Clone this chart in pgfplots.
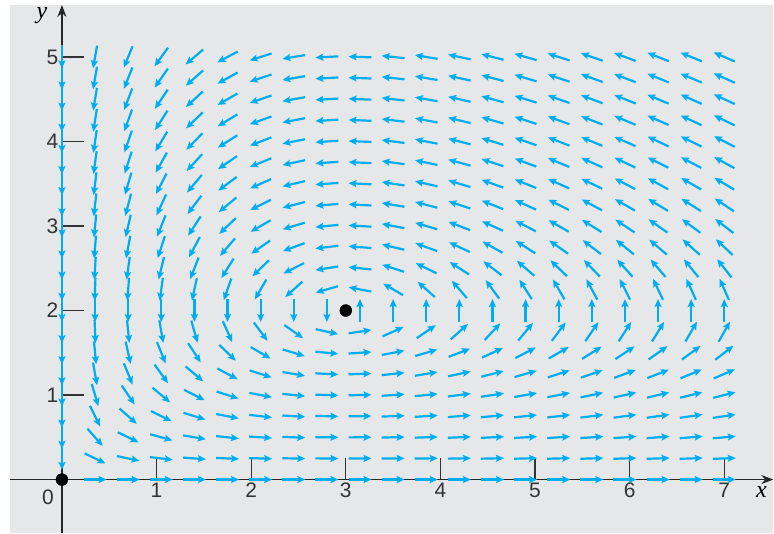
\documentclass[border=0pt]{standalone}
\usepackage{fontspec}
\setmainfont{Liberation Serif}
\setsansfont{Liberation Sans}
\usepackage{pgfplots}
\usepackage{pgfplotstable}
\pgfplotsset{compat=1.18}
\usetikzlibrary{arrows.meta}
\definecolor{bggray}{RGB}{230,231,233}
\definecolor{fieldcyan}{RGB}{0,174,239}
\pgfplotstableread{
x y a b
0 0.25 0 -0.75
0 0.5 0 -1.5
0 0.75 0 -2.25
0 1 0 -3
0 1.25 0 -3.75
0 1.5 0 -4.5
0 1.75 0 -5.25
0 2 0 -6
0 2.25 0 -6.75
0 2.5 0 -7.5
0 2.75 0 -8.25
0 3 0 -9
0 3.25 0 -9.75
0 3.5 0 -10.5
0 3.75 0 -11.25
0 4 0 -12
0 4.25 0 -12.75
0 4.5 0 -13.5
0 4.75 0 -14.25
0 5 0 -15
0.35 0 1.4 0
0.35 0.25 1.225 -0.6625
0.35 0.5 1.05 -1.325
0.35 0.75 0.875 -1.9875
0.35 1 0.7 -2.65
0.35 1.25 0.525 -3.3125
0.35 1.5 0.35 -3.975
0.35 1.75 0.175 -4.6375
0.35 2 0 -5.3
0.35 2.25 -0.175 -5.9625
0.35 2.5 -0.35 -6.625
0.35 2.75 -0.525 -7.2875
0.35 3 -0.7 -7.95
0.35 3.25 -0.875 -8.6125
0.35 3.5 -1.05 -9.275
0.35 3.75 -1.225 -9.9375
0.35 4 -1.4 -10.6
0.35 4.25 -1.575 -11.2625
0.35 4.5 -1.75 -11.925
0.35 4.75 -1.925 -12.5875
0.35 5 -2.1 -13.25
0.7 0 2.8 0
0.7 0.25 2.45 -0.575
0.7 0.5 2.1 -1.15
0.7 0.75 1.75 -1.725
0.7 1 1.4 -2.3
0.7 1.25 1.05 -2.875
0.7 1.5 0.7 -3.45
0.7 1.75 0.35 -4.025
0.7 2 0 -4.6
0.7 2.25 -0.35 -5.175
0.7 2.5 -0.7 -5.75
0.7 2.75 -1.05 -6.325
0.7 3 -1.4 -6.9
0.7 3.25 -1.75 -7.475
0.7 3.5 -2.1 -8.05
0.7 3.75 -2.45 -8.625
0.7 4 -2.8 -9.2
0.7 4.25 -3.15 -9.775
0.7 4.5 -3.5 -10.35
0.7 4.75 -3.85 -10.925
0.7 5 -4.2 -11.5
1.05 0 4.2 0
1.05 0.25 3.675 -0.4875
1.05 0.5 3.15 -0.975
1.05 0.75 2.625 -1.4625
1.05 1 2.1 -1.95
1.05 1.25 1.575 -2.4375
1.05 1.5 1.05 -2.925
1.05 1.75 0.525 -3.4125
1.05 2 0 -3.9
1.05 2.25 -0.525 -4.3875
1.05 2.5 -1.05 -4.875
1.05 2.75 -1.575 -5.3625
1.05 3 -2.1 -5.85
1.05 3.25 -2.625 -6.3375
1.05 3.5 -3.15 -6.825
1.05 3.75 -3.675 -7.3125
1.05 4 -4.2 -7.8
1.05 4.25 -4.725 -8.2875
1.05 4.5 -5.25 -8.775
1.05 4.75 -5.775 -9.2625
1.05 5 -6.3 -9.75
1.4 0 5.6 0
1.4 0.25 4.9 -0.4
1.4 0.5 4.2 -0.8
1.4 0.75 3.5 -1.2
1.4 1 2.8 -1.6
1.4 1.25 2.1 -2
1.4 1.5 1.4 -2.4
1.4 1.75 0.7 -2.8
1.4 2 0 -3.2
1.4 2.25 -0.7 -3.6
1.4 2.5 -1.4 -4
1.4 2.75 -2.1 -4.4
1.4 3 -2.8 -4.8
1.4 3.25 -3.5 -5.2
1.4 3.5 -4.2 -5.6
1.4 3.75 -4.9 -6
1.4 4 -5.6 -6.4
1.4 4.25 -6.3 -6.8
1.4 4.5 -7 -7.2
1.4 4.75 -7.7 -7.6
1.4 5 -8.4 -8
1.75 0 7 0
1.75 0.25 6.125 -0.3125
1.75 0.5 5.25 -0.625
1.75 0.75 4.375 -0.9375
1.75 1 3.5 -1.25
1.75 1.25 2.625 -1.5625
1.75 1.5 1.75 -1.875
1.75 1.75 0.875 -2.1875
1.75 2 0 -2.5
1.75 2.25 -0.875 -2.8125
1.75 2.5 -1.75 -3.125
1.75 2.75 -2.625 -3.4375
1.75 3 -3.5 -3.75
1.75 3.25 -4.375 -4.0625
1.75 3.5 -5.25 -4.375
1.75 3.75 -6.125 -4.6875
1.75 4 -7 -5
1.75 4.25 -7.875 -5.3125
1.75 4.5 -8.75 -5.625
1.75 4.75 -9.625 -5.9375
1.75 5 -10.5 -6.25
2.1 0 8.4 0
2.1 0.25 7.35 -0.225
2.1 0.5 6.3 -0.45
2.1 0.75 5.25 -0.675
2.1 1 4.2 -0.9
2.1 1.25 3.15 -1.125
2.1 1.5 2.1 -1.35
2.1 1.75 1.05 -1.575
2.1 2 0 -1.8
2.1 2.25 -1.05 -2.025
2.1 2.5 -2.1 -2.25
2.1 2.75 -3.15 -2.475
2.1 3 -4.2 -2.7
2.1 3.25 -5.25 -2.925
2.1 3.5 -6.3 -3.15
2.1 3.75 -7.35 -3.375
2.1 4 -8.4 -3.6
2.1 4.25 -9.45 -3.825
2.1 4.5 -10.5 -4.05
2.1 4.75 -11.55 -4.275
2.1 5 -12.6 -4.5
2.45 0 9.8 0
2.45 0.25 8.575 -0.1375
2.45 0.5 7.35 -0.275
2.45 0.75 6.125 -0.4125
2.45 1 4.9 -0.55
2.45 1.25 3.675 -0.6875
2.45 1.5 2.45 -0.825
2.45 1.75 1.225 -0.9625
2.45 2 0 -1.1
2.45 2.25 -1.225 -1.2375
2.45 2.5 -2.45 -1.375
2.45 2.75 -3.675 -1.5125
2.45 3 -4.9 -1.65
2.45 3.25 -6.125 -1.7875
2.45 3.5 -7.35 -1.925
2.45 3.75 -8.575 -2.0625
2.45 4 -9.8 -2.2
2.45 4.25 -11.025 -2.3375
2.45 4.5 -12.25 -2.475
2.45 4.75 -13.475 -2.6125
2.45 5 -14.7 -2.75
2.8 0 11.2 0
2.8 0.25 9.8 -0.05
2.8 0.5 8.4 -0.1
2.8 0.75 7 -0.15
2.8 1 5.6 -0.2
2.8 1.25 4.2 -0.25
2.8 1.5 2.8 -0.3
2.8 1.75 1.4 -0.35
2.8 2 0 -0.4
2.8 2.25 -1.4 -0.45
2.8 2.5 -2.8 -0.5
2.8 2.75 -4.2 -0.55
2.8 3 -5.6 -0.6
2.8 3.25 -7 -0.65
2.8 3.5 -8.4 -0.7
2.8 3.75 -9.8 -0.75
2.8 4 -11.2 -0.8
2.8 4.25 -12.6 -0.85
2.8 4.5 -14 -0.9
2.8 4.75 -15.4 -0.95
2.8 5 -16.8 -1
3.15 0 12.6 0
3.15 0.25 11.025 0.0375
3.15 0.5 9.45 0.075
3.15 0.75 7.875 0.1125
3.15 1 6.3 0.15
3.15 1.25 4.725 0.1875
3.15 1.5 3.15 0.225
3.15 1.75 1.575 0.2625
3.15 2 0 0.3
3.15 2.25 -1.575 0.3375
3.15 2.5 -3.15 0.375
3.15 2.75 -4.725 0.4125
3.15 3 -6.3 0.45
3.15 3.25 -7.875 0.4875
3.15 3.5 -9.45 0.525
3.15 3.75 -11.025 0.5625
3.15 4 -12.6 0.6
3.15 4.25 -14.175 0.6375
3.15 4.5 -15.75 0.675
3.15 4.75 -17.325 0.7125
3.15 5 -18.9 0.75
3.5 0 14 0
3.5 0.25 12.25 0.125
3.5 0.5 10.5 0.25
3.5 0.75 8.75 0.375
3.5 1 7 0.5
3.5 1.25 5.25 0.625
3.5 1.5 3.5 0.75
3.5 1.75 1.75 0.875
3.5 2 0 1
3.5 2.25 -1.75 1.125
3.5 2.5 -3.5 1.25
3.5 2.75 -5.25 1.375
3.5 3 -7 1.5
3.5 3.25 -8.75 1.625
3.5 3.5 -10.5 1.75
3.5 3.75 -12.25 1.875
3.5 4 -14 2
3.5 4.25 -15.75 2.125
3.5 4.5 -17.5 2.25
3.5 4.75 -19.25 2.375
3.5 5 -21 2.5
3.85 0 15.4 0
3.85 0.25 13.475 0.2125
3.85 0.5 11.55 0.425
3.85 0.75 9.625 0.6375
3.85 1 7.7 0.85
3.85 1.25 5.775 1.0625
3.85 1.5 3.85 1.275
3.85 1.75 1.925 1.4875
3.85 2 0 1.7
3.85 2.25 -1.925 1.9125
3.85 2.5 -3.85 2.125
3.85 2.75 -5.775 2.3375
3.85 3 -7.7 2.55
3.85 3.25 -9.625 2.7625
3.85 3.5 -11.55 2.975
3.85 3.75 -13.475 3.1875
3.85 4 -15.4 3.4
3.85 4.25 -17.325 3.6125
3.85 4.5 -19.25 3.825
3.85 4.75 -21.175 4.0375
3.85 5 -23.1 4.25
4.2 0 16.8 0
4.2 0.25 14.7 0.3
4.2 0.5 12.6 0.6
4.2 0.75 10.5 0.9
4.2 1 8.4 1.2
4.2 1.25 6.3 1.5
4.2 1.5 4.2 1.8
4.2 1.75 2.1 2.1
4.2 2 0 2.4
4.2 2.25 -2.1 2.7
4.2 2.5 -4.2 3
4.2 2.75 -6.3 3.3
4.2 3 -8.4 3.6
4.2 3.25 -10.5 3.9
4.2 3.5 -12.6 4.2
4.2 3.75 -14.7 4.5
4.2 4 -16.8 4.8
4.2 4.25 -18.9 5.1
4.2 4.5 -21 5.4
4.2 4.75 -23.1 5.7
4.2 5 -25.2 6
4.55 0 18.2 0
4.55 0.25 15.925 0.3875
4.55 0.5 13.65 0.775
4.55 0.75 11.375 1.1625
4.55 1 9.1 1.55
4.55 1.25 6.825 1.9375
4.55 1.5 4.55 2.325
4.55 1.75 2.275 2.7125
4.55 2 0 3.1
4.55 2.25 -2.275 3.4875
4.55 2.5 -4.55 3.875
4.55 2.75 -6.825 4.2625
4.55 3 -9.1 4.65
4.55 3.25 -11.375 5.0375
4.55 3.5 -13.65 5.425
4.55 3.75 -15.925 5.8125
4.55 4 -18.2 6.2
4.55 4.25 -20.475 6.5875
4.55 4.5 -22.75 6.975
4.55 4.75 -25.025 7.3625
4.55 5 -27.3 7.75
4.9 0 19.6 0
4.9 0.25 17.15 0.475
4.9 0.5 14.7 0.95
4.9 0.75 12.25 1.425
4.9 1 9.8 1.9
4.9 1.25 7.35 2.375
4.9 1.5 4.9 2.85
4.9 1.75 2.45 3.325
4.9 2 0 3.8
4.9 2.25 -2.45 4.275
4.9 2.5 -4.9 4.75
4.9 2.75 -7.35 5.225
4.9 3 -9.8 5.7
4.9 3.25 -12.25 6.175
4.9 3.5 -14.7 6.65
4.9 3.75 -17.15 7.125
4.9 4 -19.6 7.6
4.9 4.25 -22.05 8.075
4.9 4.5 -24.5 8.55
4.9 4.75 -26.95 9.025
4.9 5 -29.4 9.5
5.25 0 21 0
5.25 0.25 18.375 0.5625
5.25 0.5 15.75 1.125
5.25 0.75 13.125 1.6875
5.25 1 10.5 2.25
5.25 1.25 7.875 2.8125
5.25 1.5 5.25 3.375
5.25 1.75 2.625 3.9375
5.25 2 0 4.5
5.25 2.25 -2.625 5.0625
5.25 2.5 -5.25 5.625
5.25 2.75 -7.875 6.1875
5.25 3 -10.5 6.75
5.25 3.25 -13.125 7.3125
5.25 3.5 -15.75 7.875
5.25 3.75 -18.375 8.4375
5.25 4 -21 9
5.25 4.25 -23.625 9.5625
5.25 4.5 -26.25 10.125
5.25 4.75 -28.875 10.6875
5.25 5 -31.5 11.25
5.6 0 22.4 0
5.6 0.25 19.6 0.65
5.6 0.5 16.8 1.3
5.6 0.75 14 1.95
5.6 1 11.2 2.6
5.6 1.25 8.4 3.25
5.6 1.5 5.6 3.9
5.6 1.75 2.8 4.55
5.6 2 0 5.2
5.6 2.25 -2.8 5.85
5.6 2.5 -5.6 6.5
5.6 2.75 -8.4 7.15
5.6 3 -11.2 7.8
5.6 3.25 -14 8.45
5.6 3.5 -16.8 9.1
5.6 3.75 -19.6 9.75
5.6 4 -22.4 10.4
5.6 4.25 -25.2 11.05
5.6 4.5 -28 11.7
5.6 4.75 -30.8 12.35
5.6 5 -33.6 13
5.95 0 23.8 0
5.95 0.25 20.825 0.7375
5.95 0.5 17.85 1.475
5.95 0.75 14.875 2.2125
5.95 1 11.9 2.95
5.95 1.25 8.925 3.6875
5.95 1.5 5.95 4.425
5.95 1.75 2.975 5.1625
5.95 2 0 5.9
5.95 2.25 -2.975 6.6375
5.95 2.5 -5.95 7.375
5.95 2.75 -8.925 8.1125
5.95 3 -11.9 8.85
5.95 3.25 -14.875 9.5875
5.95 3.5 -17.85 10.325
5.95 3.75 -20.825 11.0625
5.95 4 -23.8 11.8
5.95 4.25 -26.775 12.5375
5.95 4.5 -29.75 13.275
5.95 4.75 -32.725 14.0125
5.95 5 -35.7 14.75
6.3 0 25.2 0
6.3 0.25 22.05 0.825
6.3 0.5 18.9 1.65
6.3 0.75 15.75 2.475
6.3 1 12.6 3.3
6.3 1.25 9.45 4.125
6.3 1.5 6.3 4.95
6.3 1.75 3.15 5.775
6.3 2 0 6.6
6.3 2.25 -3.15 7.425
6.3 2.5 -6.3 8.25
6.3 2.75 -9.45 9.075
6.3 3 -12.6 9.9
6.3 3.25 -15.75 10.725
6.3 3.5 -18.9 11.55
6.3 3.75 -22.05 12.375
6.3 4 -25.2 13.2
6.3 4.25 -28.35 14.025
6.3 4.5 -31.5 14.85
6.3 4.75 -34.65 15.675
6.3 5 -37.8 16.5
6.65 0 26.6 0
6.65 0.25 23.275 0.9125
6.65 0.5 19.95 1.825
6.65 0.75 16.625 2.7375
6.65 1 13.3 3.65
6.65 1.25 9.975 4.5625
6.65 1.5 6.65 5.475
6.65 1.75 3.325 6.3875
6.65 2 0 7.3
6.65 2.25 -3.325 8.2125
6.65 2.5 -6.65 9.125
6.65 2.75 -9.975 10.0375
6.65 3 -13.3 10.95
6.65 3.25 -16.625 11.8625
6.65 3.5 -19.95 12.775
6.65 3.75 -23.275 13.6875
6.65 4 -26.6 14.6
6.65 4.25 -29.925 15.5125
6.65 4.5 -33.25 16.425
6.65 4.75 -36.575 17.3375
6.65 5 -39.9 18.25
7 0 28 0
7 0.25 24.5 1
7 0.5 21 2
7 0.75 17.5 3
7 1 14 4
7 1.25 10.5 5
7 1.5 7 6
7 1.75 3.5 7
7 2 0 8
7 2.25 -3.5 9
7 2.5 -7 10
7 2.75 -10.5 11
7 3 -14 12
7 3.25 -17.5 13
7 3.5 -21 14
7 3.75 -24.5 15
7 4 -28 16
7 4.25 -31.5 17
7 4.5 -35 18
7 4.75 -38.5 19
7 5 -42 20
}\fielddata
\begin{document}
\begin{tikzpicture}
\begin{axis}[
  scale only axis,
  width=764pt, height=528pt,
  xmin=-0.549, xmax=7.518,
  ymin=-0.6265, ymax=5.615,
  axis background/.style={fill=bggray},
  axis lines=middle,
  axis line style={black!85, line width=1.4pt, -{Stealth[length=12pt,width=9pt]}},
  xtick={1,...,7}, ytick={1,...,5},
  tick align=inside,
  major tick length=22pt,
  tick style={black!80, line width=1.2pt},
  /pgf/number format/assume math mode=true,
  ticklabel style={font=\sffamily\fontsize{21}{21}\selectfont, text=black!80},
  clip=false,
]
\addplot[
  fieldcyan, line width=2.2pt,
  -{Stealth[length=8pt,width=7pt,inset=1.5pt]},
  quiver={
    u={0.23*\thisrow{a}/sqrt((0.947*\thisrow{a})^2+(0.846*\thisrow{b})^2)},
    v={0.23*\thisrow{b}/sqrt((0.947*\thisrow{a})^2+(0.846*\thisrow{b})^2)}
  }
] table[
  x expr={\thisrow{x}-0.115*\thisrow{a}/sqrt((0.947*\thisrow{a})^2+(0.846*\thisrow{b})^2)},
  y expr={\thisrow{y}-0.115*\thisrow{b}/sqrt((0.947*\thisrow{a})^2+(0.846*\thisrow{b})^2)}
] {\fielddata};
\addplot[only marks, mark=*, mark size=6pt, black] coordinates {(3,2) (0,0)};
\node[font=\sffamily\fontsize{21}{21}\selectfont, text=black!80] at (axis cs:-0.148,-0.213) {0};
\node[font=\itshape\fontsize{24}{24}\selectfont] at (axis cs:-0.211,5.49) {y};
\node[font=\itshape\fontsize{24}{24}\selectfont] at (axis cs:7.392,-0.15) {x};
\end{axis}
\path (current axis.north west) ++(-10pt,5pt);
\end{tikzpicture}
\end{document}
